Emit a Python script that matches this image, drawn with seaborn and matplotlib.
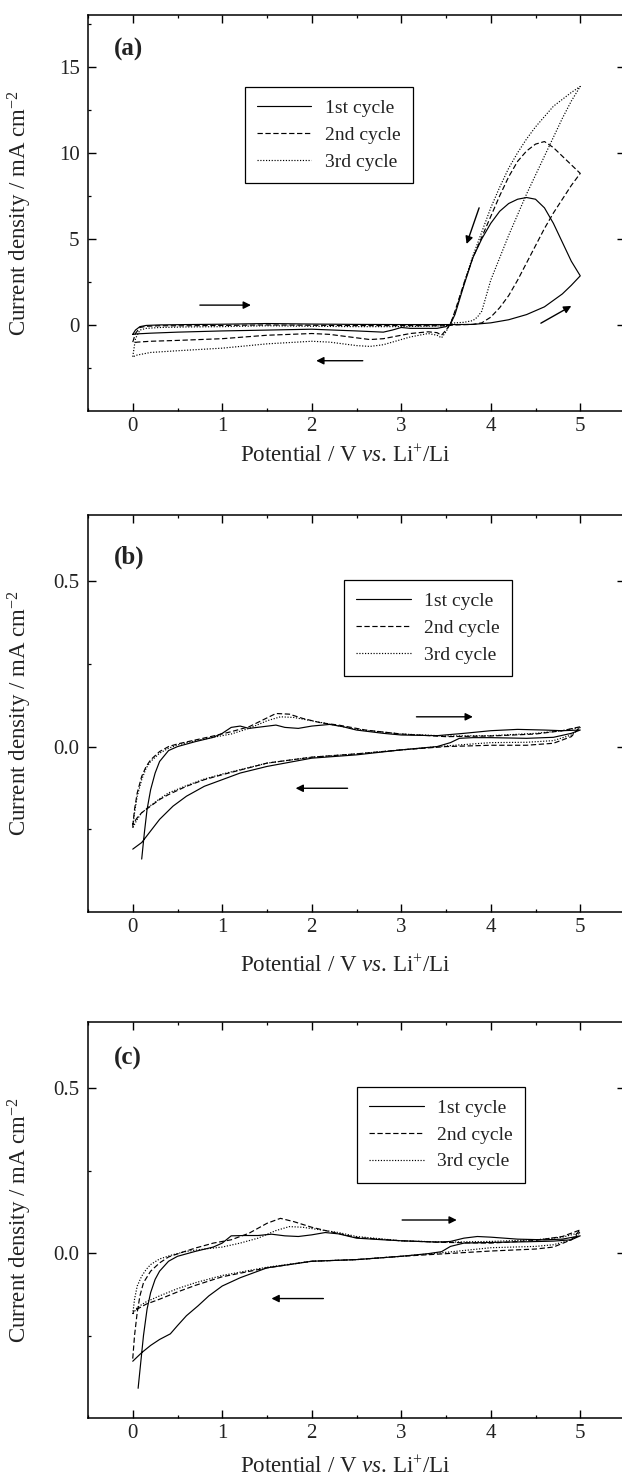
import numpy as np
import matplotlib
matplotlib.use("Agg")
import matplotlib.pyplot as plt
import seaborn as sns

# ---------------- panel (a) : potential (V) and current density (mA cm-2) ----------------
A1_FWD_V = [0.0, 0.03, 0.08, 0.15, 0.3, 0.6, 1.0, 1.5, 2.0, 2.5, 3.0, 3.5, 3.6, 3.8, 4.0,
            4.2, 4.4, 4.6, 4.8, 4.9, 5.0]
A1_FWD_I = [-0.55, -0.3, -0.1, -0.03, 0.0, 0.02, 0.04, 0.08, 0.05, 0.03, 0.02, 0.02, 0.02,
            0.03, 0.12, 0.3, 0.6, 1.05, 1.8, 2.3, 2.85]
A1_REV_V = [5.0, 4.9, 4.8, 4.7, 4.6, 4.5, 4.4, 4.3, 4.2, 4.1, 4.0, 3.9, 3.8, 3.7, 3.6, 3.55,
            3.5, 3.4, 3.3, 3.1, 3.0, 2.9, 2.8, 2.5, 2.0, 1.5, 1.0, 0.5, 0.2, 0.05, 0.0]
A1_REV_I = [2.85, 3.7, 4.8, 5.9, 6.8, 7.3, 7.4, 7.3, 7.05, 6.6, 5.9, 5.0, 3.9, 2.3, 0.6, 0.05,
            -0.1, -0.2, -0.2, -0.2, -0.15, -0.3, -0.42, -0.35, -0.25, -0.3, -0.35, -0.42,
            -0.48, -0.52, -0.55]

A2_FWD_V = [0.0, 0.03, 0.08, 0.15, 0.3, 0.6, 1.0, 1.5, 2.0, 2.5, 3.0, 3.5, 3.6, 3.8, 3.9,
            4.0, 4.1, 4.2, 4.3, 4.4, 4.5, 4.6, 4.7, 4.8, 4.9, 5.0]
A2_FWD_I = [-1.0, -0.5, -0.15, -0.08, -0.05, -0.05, -0.03, 0.0, -0.02, -0.04, -0.04, -0.05,
            0.0, 0.03, 0.12, 0.45, 1.0, 1.7, 2.6, 3.6, 4.6, 5.6, 6.5, 7.3, 8.1, 8.8]
A2_REV_V = [5.0, 4.9, 4.8, 4.7, 4.6, 4.5, 4.4, 4.3, 4.2, 4.1, 4.0, 3.9, 3.8, 3.7, 3.6, 3.55,
            3.5, 3.45, 3.4, 3.3, 3.1, 3.0, 2.8, 2.65, 2.5, 2.2, 2.0, 1.5, 1.0, 0.5, 0.2,
            0.05, 0.0]
A2_REV_I = [8.8, 9.3, 9.8, 10.3, 10.65, 10.5, 10.1, 9.5, 8.6, 7.5, 6.3, 5.1, 3.9, 2.4, 0.8,
            0.05, -0.3, -0.6, -0.45, -0.4, -0.5, -0.6, -0.8, -0.85, -0.75, -0.55, -0.5,
            -0.6, -0.8, -0.9, -0.95, -1.0, -1.05]

A3_FWD_V = [0.0, 0.03, 0.08, 0.15, 0.3, 0.6, 1.0, 1.5, 2.0, 2.5, 3.0, 3.5, 3.55, 3.6, 3.7,
            3.8, 3.85, 3.9, 4.0, 4.1, 4.2, 4.3, 4.4, 4.5, 4.6, 4.7, 4.8, 4.9, 5.0]
A3_FWD_I = [-1.85, -0.8, -0.3, -0.2, -0.15, -0.12, -0.1, -0.05, -0.08, -0.1, -0.1, -0.05,
            0.05, 0.12, 0.15, 0.25, 0.45, 0.8, 2.6, 3.9, 5.2, 6.4, 7.6, 8.7, 9.8, 10.9,
            12.0, 13.0, 13.85]
A3_REV_V = [5.0, 4.9, 4.8, 4.7, 4.6, 4.5, 4.4, 4.3, 4.2, 4.1, 4.0, 3.9, 3.8, 3.7, 3.6, 3.55,
            3.5, 3.45, 3.4, 3.3, 3.1, 3.0, 2.8, 2.65, 2.5, 2.2, 2.0, 1.5, 1.0, 0.5, 0.2,
            0.05, 0.0]
A3_REV_I = [13.85, 13.5, 13.1, 12.7, 12.1, 11.5, 10.8, 10.0, 9.1, 8.0, 6.8, 5.4, 4.0, 2.4,
            0.7, 0.1, -0.4, -0.75, -0.6, -0.5, -0.7, -0.85, -1.15, -1.25, -1.2, -1.0,
            -0.95, -1.1, -1.35, -1.5, -1.6, -1.75, -1.85]

# ---------------- panel (b) ----------------
B1_FWD_V = [0.1, 0.13, 0.16, 0.2, 0.25, 0.3, 0.4, 0.5, 0.7, 0.9, 1.0, 1.1, 1.2, 1.3, 1.45,
            1.6, 1.7, 1.85, 2.0, 2.2, 2.35, 2.5, 2.8, 3.0, 3.4, 3.7, 4.0, 4.3, 4.6, 4.8, 5.0]
B1_FWD_I = [-0.34, -0.26, -0.19, -0.13, -0.08, -0.045, -0.012, 0.0, 0.015, 0.028, 0.04,
            0.058, 0.062, 0.055, 0.06, 0.065, 0.058, 0.055, 0.062, 0.067, 0.06, 0.05, 0.04,
            0.035, 0.033, 0.04, 0.048, 0.052, 0.05, 0.048, 0.05]
B1_REV_V = [5.0, 4.9, 4.7, 4.4, 4.0, 3.8, 3.65, 3.55, 3.4, 3.0, 2.5, 2.0, 1.5, 1.2, 1.0,
            0.9, 0.8, 0.6, 0.45, 0.3, 0.2, 0.1, 0.0]
B1_REV_I = [0.05, 0.04, 0.028, 0.025, 0.027, 0.027, 0.025, 0.012, 0.0, -0.01, -0.025,
            -0.035, -0.06, -0.08, -0.1, -0.11, -0.12, -0.15, -0.18, -0.22, -0.255, -0.29,
            -0.31]

B2_FWD_V = [0.0, 0.02, 0.05, 0.1, 0.15, 0.2, 0.3, 0.4, 0.5, 0.7, 0.9, 1.1, 1.3, 1.45, 1.6,
            1.75, 1.9, 2.1, 2.3, 2.6, 3.0, 3.5, 4.0, 4.5, 4.8, 5.0]
B2_FWD_I = [-0.24, -0.19, -0.14, -0.09, -0.06, -0.04, -0.015, 0.0, 0.008, 0.02, 0.032,
            0.045, 0.06, 0.08, 0.1, 0.098, 0.085, 0.072, 0.065, 0.05, 0.038, 0.03, 0.032,
            0.038, 0.048, 0.06]
B2_REV_V = [5.0, 4.9, 4.7, 4.4, 4.0, 3.5, 3.0, 2.5, 2.0, 1.5, 1.0, 0.8, 0.6, 0.4, 0.3, 0.2,
            0.1, 0.05, 0.0]
B2_REV_I = [0.06, 0.03, 0.01, 0.004, 0.004, 0.0, -0.01, -0.022, -0.032, -0.05, -0.085,
            -0.1, -0.12, -0.145, -0.16, -0.18, -0.2, -0.215, -0.235]

B3_FWD_V = [0.0, 0.02, 0.05, 0.1, 0.15, 0.2, 0.3, 0.4, 0.5, 0.7, 0.9, 1.1, 1.3, 1.5, 1.65,
            1.8, 2.0, 2.2, 2.5, 3.0, 3.5, 4.0, 4.5, 4.8, 5.0]
B3_FWD_I = [-0.245, -0.2, -0.15, -0.1, -0.065, -0.045, -0.02, -0.005, 0.005, 0.018, 0.028,
            0.038, 0.055, 0.078, 0.09, 0.088, 0.078, 0.068, 0.052, 0.038, 0.032, 0.033,
            0.04, 0.048, 0.058]
B3_REV_V = [5.0, 4.9, 4.7, 4.4, 4.0, 3.5, 3.0, 2.5, 2.0, 1.5, 1.0, 0.8, 0.6, 0.4, 0.3, 0.2,
            0.1, 0.05, 0.0]
B3_REV_I = [0.058, 0.035, 0.018, 0.013, 0.012, 0.002, -0.01, -0.022, -0.032, -0.05, -0.083,
            -0.098, -0.118, -0.14, -0.158, -0.178, -0.2, -0.22, -0.245]

# ---------------- panel (c) ----------------
C1_FWD_V = [0.06, 0.09, 0.12, 0.16, 0.2, 0.25, 0.3, 0.4, 0.5, 0.7, 0.9, 1.0, 1.1, 1.25, 1.4,
            1.55, 1.7, 1.85, 2.0, 2.15, 2.3, 2.5, 2.8, 3.0, 3.4, 3.55, 3.7, 3.85, 4.0, 4.3,
            4.6, 4.8, 5.0]
C1_FWD_I = [-0.41, -0.33, -0.25, -0.17, -0.12, -0.08, -0.055, -0.025, -0.01, 0.005, 0.018,
            0.03, 0.052, 0.053, 0.053, 0.057, 0.052, 0.05, 0.055, 0.062, 0.058, 0.045, 0.04,
            0.037, 0.033, 0.035, 0.045, 0.05, 0.048, 0.042, 0.04, 0.042, 0.052]
C1_REV_V = [5.0, 4.9, 4.7, 4.4, 4.0, 3.7, 3.55, 3.45, 3.3, 3.0, 2.5, 2.0, 1.5, 1.2, 1.0,
            0.85, 0.73, 0.6, 0.5, 0.42, 0.3, 0.2, 0.1, 0.0]
C1_REV_I = [0.052, 0.04, 0.036, 0.034, 0.032, 0.03, 0.02, 0.004, -0.002, -0.01, -0.02,
            -0.025, -0.045, -0.075, -0.1, -0.13, -0.16, -0.19, -0.22, -0.245, -0.262,
            -0.28, -0.302, -0.328]

C2_FWD_V = [0.0, 0.02, 0.05, 0.08, 0.12, 0.2, 0.3, 0.4, 0.55, 0.7, 0.9, 1.1, 1.3, 1.5, 1.65,
            1.8, 2.0, 2.2, 2.5, 3.0, 3.5, 4.0, 4.5, 4.8, 5.0]
C2_FWD_I = [-0.32, -0.25, -0.18, -0.13, -0.09, -0.055, -0.03, -0.012, 0.002, 0.015, 0.03,
            0.04, 0.06, 0.09, 0.105, 0.095, 0.078, 0.065, 0.047, 0.037, 0.032, 0.03, 0.038,
            0.05, 0.07]
C2_REV_V = [5.0, 4.9, 4.7, 4.5, 4.0, 3.5, 3.0, 2.5, 2.0, 1.5, 1.0, 0.7, 0.5, 0.3, 0.15,
            0.05, 0.0]
C2_REV_I = [0.07, 0.04, 0.018, 0.012, 0.006, -0.002, -0.01, -0.02, -0.025, -0.045, -0.072,
            -0.098, -0.118, -0.14, -0.155, -0.17, -0.18]

C3_FWD_V = [0.0, 0.02, 0.05, 0.1, 0.15, 0.2, 0.3, 0.45, 0.6, 0.8, 1.0, 1.2, 1.4, 1.6, 1.75,
            1.9, 2.1, 2.3, 2.5, 3.0, 3.5, 4.0, 4.5, 4.8, 5.0]
C3_FWD_I = [-0.185, -0.14, -0.1, -0.07, -0.05, -0.035, -0.018, -0.005, 0.005, 0.012, 0.018,
            0.03, 0.045, 0.068, 0.08, 0.078, 0.07, 0.062, 0.05, 0.037, 0.033, 0.035, 0.04,
            0.048, 0.062]
C3_REV_V = [5.0, 4.9, 4.7, 4.5, 4.0, 3.5, 3.0, 2.5, 2.0, 1.5, 1.0, 0.7, 0.5, 0.3, 0.15,
            0.05, 0.0]
C3_REV_I = [0.062, 0.04, 0.025, 0.02, 0.016, 0.002, -0.01, -0.02, -0.025, -0.043, -0.068,
            -0.09, -0.108, -0.13, -0.148, -0.165, -0.185]

CYCLE_LABELS = ["1st cycle", "2nd cycle", "3rd cycle"]
PANEL_TAGS = ["(a)", "(b)", "(c)"]
X_TICKS = [0, 1, 2, 3, 4, 5]

# ---------------- styling ----------------
sns.set_theme(style="ticks")
plt.rcParams["font.family"] = ["Liberation Serif", "DejaVu Serif"]
plt.rcParams["mathtext.fontset"] = "custom"
plt.rcParams["mathtext.rm"] = "Liberation Serif"
plt.rcParams["mathtext.it"] = "Liberation Serif:italic"
plt.rcParams["axes.linewidth"] = 1.1
plt.rcParams["axes.edgecolor"] = "black"

W, H = 622, 1480
fig = plt.figure(figsize=(W / 100, H / 100), dpi=100)

LINESTYLES = ["-", (0, (4.5, 2.2)), (0, (1, 1.4))]
TEXT_COLOR = "#222222"

panels = [
    dict(data=[(A1_FWD_V, A1_FWD_I, A1_REV_V, A1_REV_I),
               (A2_FWD_V, A2_FWD_I, A2_REV_V, A2_REV_I),
               (A3_FWD_V, A3_FWD_I, A3_REV_V, A3_REV_I)],
         top=15, bottom=411, ylim=(-5, 18), yticks=[0, 5, 10, 15],
         yminor=[-2.5, 2.5, 7.5, 12.5, 17.5], yfmt="{:g}",
         tag_y=0.914, leg=(0.292, 0.818), xlab_y=-0.087,
         arrows=[((0.75, 1.15), (1.32, 1.15)), ((2.57, -2.08), (2.05, -2.08)),
                 ((3.87, 6.8), (3.73, 4.7)), ((4.56, 0.1), (4.9, 1.1))]),
    dict(data=[(B1_FWD_V, B1_FWD_I, B1_REV_V, B1_REV_I),
               (B2_FWD_V, B2_FWD_I, B2_REV_V, B2_REV_I),
               (B3_FWD_V, B3_FWD_I, B3_REV_V, B3_REV_I)],
         top=515, bottom=912, ylim=(-0.5, 0.7), yticks=[0.0, 0.5],
         yminor=[-0.25, 0.25], yfmt="{:.1f}",
         tag_y=0.894, leg=(0.477, 0.836), xlab_y=-0.110,
         arrows=[((3.17, 0.09), (3.8, 0.09)), ((2.4, -0.126), (1.82, -0.126))]),
    dict(data=[(C1_FWD_V, C1_FWD_I, C1_REV_V, C1_REV_I),
               (C2_FWD_V, C2_FWD_I, C2_REV_V, C2_REV_I),
               (C3_FWD_V, C3_FWD_I, C3_REV_V, C3_REV_I)],
         top=1022, bottom=1418, ylim=(-0.5, 0.7), yticks=[0.0, 0.5],
         yminor=[-0.25, 0.25], yfmt="{:.1f}",
         tag_y=0.909, leg=(0.501, 0.836), xlab_y=-0.097,
         arrows=[((3.01, 0.10), (3.62, 0.10)), ((2.13, -0.138), (1.55, -0.138))]),
]

AX_LEFT, AX_RIGHT = 88, 625

for tag, p in zip(PANEL_TAGS, panels):
    ax = fig.add_axes([AX_LEFT / W, 1 - p["bottom"] / H,
                       (AX_RIGHT - AX_LEFT) / W, (p["bottom"] - p["top"]) / H])
    for k, (fv, fi, rv, ri) in enumerate(p["data"]):
        xs = np.concatenate([fv, rv])
        ys = np.concatenate([fi, ri])
        sns.lineplot(x=xs, y=ys, sort=False, estimator=None, ax=ax, color="black",
                     linestyle=LINESTYLES[k], linewidth=0.85, label=CYCLE_LABELS[k])

    ax.set_xlim(-0.5, 5.5)
    ax.set_ylim(*p["ylim"])
    ax.set_xticks(X_TICKS)
    ax.set_xticks(np.arange(-0.5, 5.51, 0.5), minor=True)
    ax.set_yticks(p["yticks"])
    ax.set_yticklabels([p["yfmt"].format(v) for v in p["yticks"]])
    ax.set_yticks(p["yminor"], minor=True)
    ax.tick_params(which="both", direction="in", top=True, right=True, colors="black",
                   labelcolor=TEXT_COLOR)
    ax.tick_params(which="major", length=5.5, width=1.0, labelsize=15)
    ax.tick_params(which="minor", length=2.2, width=0.9)
    ax.tick_params(axis="x", which="major", pad=4)
    ax.tick_params(axis="y", which="major", pad=6)
    ax.spines["right"].set_visible(False)

    ax.set_xlabel(r"Potential / V $\mathit{vs.}\,$Li$^{+}$/Li", fontsize=16.5,
                  color=TEXT_COLOR)
    ax.xaxis.set_label_coords(0.479, p["xlab_y"])
    ax.set_ylabel(r"Current density / mA cm$^{-2}$", fontsize=16.5, color=TEXT_COLOR)
    ax.yaxis.set_label_coords(-0.10, 0.5)

    ax.text(0.048, p["tag_y"], tag, transform=ax.transAxes, fontsize=18,
            fontweight="bold", ha="left", va="center", color=TEXT_COLOR)

    leg = ax.legend(loc="upper left", bbox_to_anchor=p["leg"], frameon=True,
                    fancybox=False, framealpha=1, edgecolor="black", fontsize=14,
                    handlelength=2.8, handletextpad=0.7, labelspacing=0.48,
                    borderpad=0.62, borderaxespad=0)
    leg.get_frame().set_linewidth(0.9)
    for t in leg.get_texts():
        t.set_color(TEXT_COLOR)

    for start, end in p["arrows"]:
        ax.annotate("", xy=end, xytext=start,
                    arrowprops=dict(arrowstyle="-|>", color="black", lw=1.0,
                                    mutation_scale=11, shrinkA=0, shrinkB=0))

fig.savefig("out.png", dpi=100)
